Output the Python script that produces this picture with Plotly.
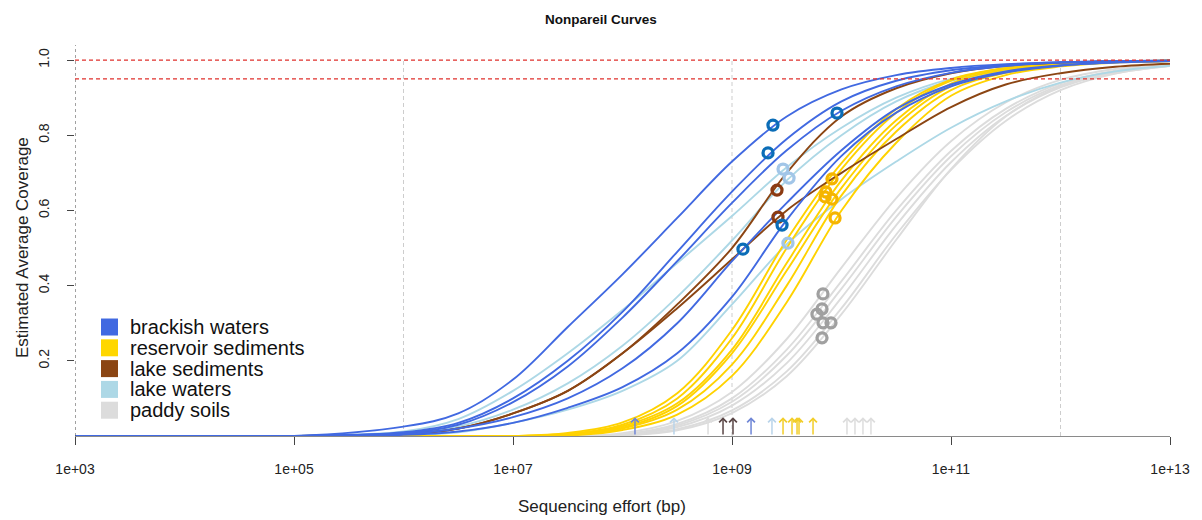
import plotly.graph_objects as go

# ---------------- data ----------------
# log10 of sequencing effort (bp) at which every curve was read
LOG_EFFORT = [3, 5, 6, 6.5, 7, 7.5, 8, 8.5, 9, 9.5, 10, 10.5, 11, 11.5, 12, 12.5, 13]

BRACKISH_CURVES = [
    [0, 0, 0.025, 0.06, 0.15, 0.29, 0.43, 0.58, 0.73, 0.85, 0.922, 0.96, 0.979, 0.989, 0.994, 0.997, 0.998],
    [0, 0, 0.01, 0.035, 0.10, 0.20, 0.33, 0.49, 0.65, 0.79, 0.89, 0.945, 0.973, 0.987, 0.994, 0.997, 0.998],
    [0, 0, 0.008, 0.03, 0.09, 0.185, 0.315, 0.465, 0.62, 0.76, 0.865, 0.93, 0.966, 0.984, 0.993, 0.996, 0.998],
    [0, 0, 0.003, 0.012, 0.035, 0.075, 0.13, 0.22, 0.37, 0.575, 0.745, 0.86, 0.93, 0.967, 0.985, 0.993, 0.997],
    [0, 0, 0.005, 0.02, 0.05, 0.10, 0.18, 0.30, 0.465, 0.62, 0.76, 0.87, 0.935, 0.97, 0.986, 0.994, 0.997],
]
LAKE_WATER_CURVES = [
    [0, 0, 0.012, 0.045, 0.12, 0.22, 0.335, 0.46, 0.585, 0.715, 0.82, 0.90, 0.95, 0.975, 0.988, 0.994, 0.997],
    [0, 0, 0.005, 0.025, 0.07, 0.14, 0.24, 0.37, 0.52, 0.68, 0.80, 0.89, 0.945, 0.973, 0.987, 0.994, 0.997],
    [0, 0, 0.002, 0.01, 0.035, 0.07, 0.12, 0.20, 0.35, 0.51, 0.63, 0.73, 0.82, 0.89, 0.94, 0.97, 0.985],
]
LAKE_SEDIMENT_CURVES = [
    [0, 0, 0.005, 0.02, 0.06, 0.12, 0.22, 0.35, 0.50, 0.70, 0.85, 0.925, 0.965, 0.985, 0.993, 0.997, 0.998],
    [0, 0, 0.005, 0.02, 0.06, 0.12, 0.22, 0.34, 0.47, 0.60, 0.70, 0.79, 0.875, 0.935, 0.965, 0.982, 0.99],
]
RESERVOIR_CURVES = [
    [0, 0, 0, 0, 0, 0.008, 0.036, 0.114, 0.282, 0.522, 0.726, 0.87, 0.948, 0.979, 0.99, 0.996, 0.998],
    [0, 0, 0, 0, 0, 0.005, 0.03, 0.10, 0.26, 0.50, 0.71, 0.86, 0.945, 0.978, 0.99, 0.996, 0.998],
    [0, 0, 0, 0, 0, 0.004, 0.026, 0.087, 0.23, 0.46, 0.68, 0.84, 0.937, 0.975, 0.988, 0.995, 0.998],
    [0, 0, 0, 0, 0, 0.003, 0.022, 0.08, 0.22, 0.44, 0.66, 0.827, 0.93, 0.97, 0.987, 0.995, 0.998],
    [0, 0, 0, 0, 0, 0.001, 0.016, 0.057, 0.16, 0.356, 0.60, 0.78, 0.905, 0.96, 0.983, 0.993, 0.997],
    [0, 0, 0, 0, 0, 0.003, 0.02, 0.07, 0.19, 0.40, 0.64, 0.81, 0.92, 0.966, 0.986, 0.994, 0.997],
]
PADDY_CURVES = [
    [0, 0, 0, 0, 0, 0, 0.0075, 0.04, 0.117, 0.258, 0.448, 0.633, 0.784, 0.887, 0.947, 0.976, 0.989],
    [0, 0, 0, 0, 0, 0, 0.0044, 0.032, 0.10, 0.23, 0.412, 0.60, 0.758, 0.87, 0.938, 0.972, 0.988],
    [0, 0, 0, 0, 0, 0, 0.003, 0.028, 0.091, 0.214, 0.392, 0.583, 0.744, 0.861, 0.933, 0.97, 0.987],
    [0, 0, 0, 0, 0, 0, 0.0034, 0.024, 0.081, 0.194, 0.368, 0.561, 0.728, 0.851, 0.927, 0.967, 0.985],
    [0, 0, 0, 0, 0, 0, 0.002, 0.018, 0.068, 0.172, 0.34, 0.536, 0.708, 0.838, 0.92, 0.964, 0.984],
    [0, 0, 0, 0, 0, 0, 0.0012, 0.015, 0.061, 0.159, 0.324, 0.522, 0.71, 0.85, 0.93, 0.965, 0.985],
]

# actual sequencing effort (log10 bp) and observed coverage of each dataset
BRACKISH_LR = [9.374, 9.329, 9.959, 9.457, 9.100]
BRACKISH_COV = [0.827, 0.753, 0.859, 0.561, 0.497]
LAKE_WATER_LR = [9.466, 9.521, 9.511]
LAKE_WATER_COV = [0.710, 0.686, 0.513]
LAKE_SEDIMENT_LR = [9.411, 9.420]
LAKE_SEDIMENT_COV = [0.654, 0.582]
RESERVOIR_LR = [9.913, 9.858, 9.913, 9.941, 9.850]
RESERVOIR_COV = [0.684, 0.649, 0.630, 0.580, 0.636]
PADDY_LR = [9.831, 9.822, 9.776, 9.831, 9.904, 9.822]
PADDY_COV = [0.378, 0.338, 0.324, 0.301, 0.301, 0.261]

# sequence diversity (log10) shown as arrows on the x axis
BRACKISH_DIV = [8.114, 9.174]
LAKE_WATER_DIV = [8.470, 9.365]
LAKE_SEDIMENT_DIV = [8.918, 9.009]
RESERVOIR_DIV = [9.466, 9.548, 9.594, 9.612, 9.740]
PADDY_DIV = [8.781, 10.050, 10.123, 10.196, 10.269]

GROUPS = ["brackish waters", "reservoir sediments", "lake sediments", "lake waters", "paddy soils"]
X_TICKS = [3, 5, 7, 9, 11, 13]
X_TICK_LABELS = ["1e+03", "1e+05", "1e+07", "1e+09", "1e+11", "1e+13"]
Y_TICKS = [0.2, 0.4, 0.6, 0.8, 1.0]
Y_TICK_LABELS = ["0.2", "0.4", "0.6", "0.8", "1.0"]
GRID_LOG = [6, 9, 12]
THRESHOLDS = [1.0, 0.95]

# ---------------- styles ----------------
FONT = "Liberation Sans, Arial, sans-serif"
LINE_COL = {
    "brackish waters": "#4169E1",
    "reservoir sediments": "#FFD200",
    "lake sediments": "#8B4513",
    "lake waters": "#ADD8E6",
    "paddy soils": "#DCDCDC",
}
LEGEND_COL = {
    "brackish waters": "#4169E1",
    "reservoir sediments": "#FFD700",
    "lake sediments": "#8B4513",
    "lake waters": "#ADD8E6",
    "paddy soils": "#DCDCDC",
}
POINT_COL = {
    "brackish waters": "#0B6DB7",
    "reservoir sediments": "#F5B400",
    "lake sediments": "#8B3A12",
    "lake waters": "#A2C6E8",
    "paddy soils": "#A0A0A0",
}
ARROW_COL = {
    "brackish waters": "#6f86d6",
    "reservoir sediments": "#F2CE2A",
    "lake sediments": "#5a4646",
    "lake waters": "#B9D4EA",
    "paddy soils": "#DDDDDD",
}

# page offset: the html body adds an 8 px margin around the figure
OFF = 8
FIG_W, FIG_H = 1202 - OFF, 520 - OFF
PLOT_L, PLOT_R, PLOT_B = 75, 1170, 436     # in screenshot pixels
Y_TOP = 1.04
PLOT_H = (PLOT_B - 60) * Y_TOP             # 1.0 sits at y = 60


def px_to_paper(px, py):
    return (px - PLOT_L) / (PLOT_R - PLOT_L), (PLOT_B - py) / PLOT_H


x_vals = [10 ** v for v in LOG_EFFORT]

fig = go.Figure()

curve_sets = [
    ("paddy soils", PADDY_CURVES),
    ("lake waters", LAKE_WATER_CURVES),
    ("reservoir sediments", RESERVOIR_CURVES),
    ("lake sediments", LAKE_SEDIMENT_CURVES),
    ("brackish waters", BRACKISH_CURVES),
]
for name, curves in curve_sets:
    for ys in curves:
        fig.add_trace(go.Scatter(
            x=x_vals, y=ys, mode="lines",
            line=dict(color=LINE_COL[name], width=1.9, shape="spline", smoothing=1.0),
            showlegend=False, hoverinfo="skip"))

point_sets = [
    ("paddy soils", PADDY_LR, PADDY_COV),
    ("lake waters", LAKE_WATER_LR, LAKE_WATER_COV),
    ("reservoir sediments", RESERVOIR_LR, RESERVOIR_COV),
    ("lake sediments", LAKE_SEDIMENT_LR, LAKE_SEDIMENT_COV),
    ("brackish waters", BRACKISH_LR, BRACKISH_COV),
]
for name, lr, cov in point_sets:
    fig.add_trace(go.Scatter(
        x=[10 ** v for v in lr], y=cov, mode="markers",
        marker=dict(symbol="circle-open", size=10, color=POINT_COL[name],
                    line=dict(width=3.3, color=POINT_COL[name])),
        showlegend=False, hoverinfo="skip"))

shapes = []
# left reference line (1e3) drawn darker
shapes.append(dict(type="line", xref="x", yref="y", x0=10 ** 3, x1=10 ** 3, y0=0, y1=Y_TOP,
                   line=dict(color="#444444", width=1, dash="3px,3px")))
for g in GRID_LOG:
    shapes.append(dict(type="line", xref="x", yref="y", x0=10 ** g, x1=10 ** g, y0=0, y1=1.0,
                       line=dict(color="#cdcdcd", width=1, dash="4px,3px"), layer="below"))
for t in THRESHOLDS:
    shapes.append(dict(type="line", xref="x", yref="y", x0=10 ** 3, x1=10 ** 13, y0=t, y1=t,
                       line=dict(color="#e0302c", width=1.2, dash="4px,3px")))

annotations = []
div_sets = [
    ("brackish waters", BRACKISH_DIV),
    ("lake waters", LAKE_WATER_DIV),
    ("lake sediments", LAKE_SEDIMENT_DIV),
    ("reservoir sediments", RESERVOIR_DIV),
    ("paddy soils", PADDY_DIV),
]
for name, divs in div_sets:
    for d in divs:
        annotations.append(dict(
            x=d, y=0.05, xref="x", yref="y", ax=d, ay=0.0, axref="x", ayref="y",
            text="", showarrow=True, arrowhead=4, arrowsize=1.0, arrowwidth=1.5,
            arrowcolor=ARROW_COL[name], standoff=0))

# manual legend (tight rows as in the reference)
LEG_SQ_X0, LEG_SQ_X1 = 101, 118
LEG_TEXT_X = 128
LEG_ROW0, LEG_ROW_STEP = 327, 20.8
for i, name in enumerate(GROUPS):
    cy = LEG_ROW0 + i * LEG_ROW_STEP
    x0, y0 = px_to_paper(LEG_SQ_X0, cy + 8.5)
    x1, y1 = px_to_paper(LEG_SQ_X1, cy - 8.5)
    shapes.append(dict(type="rect", xref="paper", yref="paper", x0=x0, x1=x1, y0=y0, y1=y1,
                       fillcolor=LEGEND_COL[name], line=dict(width=0)))
    tx, ty = px_to_paper(LEG_TEXT_X, cy)
    annotations.append(dict(text=name, xref="paper", yref="paper", x=tx, y=ty,
                            xanchor="left", yanchor="middle", showarrow=False,
                            font=dict(family=FONT, size=20, color="#111")))

ax_x, ax_y = px_to_paper(602, 507)
annotations.append(dict(text="Sequencing effort (bp)", xref="paper", yref="paper",
                        x=ax_x, y=ax_y, showarrow=False,
                        xanchor="center", yanchor="middle",
                        font=dict(family=FONT, size=17, color="#222")))
ay_x, ay_y = px_to_paper(22, 248)
annotations.append(dict(text="Estimated Average Coverage", xref="paper", yref="paper",
                        x=ay_x, y=ay_y, showarrow=False,
                        textangle=-90, xanchor="center", yanchor="middle",
                        font=dict(family=FONT, size=17, color="#222")))

fig.update_layout(
    width=FIG_W, height=FIG_H,
    margin=dict(l=PLOT_L - OFF, r=FIG_W - (PLOT_R - OFF),
                t=round(PLOT_B - PLOT_H) - OFF, b=FIG_H - (PLOT_B - OFF)),
    paper_bgcolor="white", plot_bgcolor="white",
    font=dict(family=FONT, size=14, color="#222"),
    showlegend=False,
    title=dict(text="<b>Nonpareil Curves</b>", x=(601 - OFF) / FIG_W, xanchor="center",
               y=1 - (19 - OFF) / FIG_H, yanchor="middle",
               font=dict(family=FONT, size=13.5, color="#111")),
    xaxis=dict(type="log", range=[3, 13], tickvals=[10 ** v for v in X_TICKS],
               ticktext=X_TICK_LABELS, showgrid=False, zeroline=False,
               showline=True, linecolor="#8a8a8a", linewidth=1.2,
               ticks="outside", ticklen=8, tickcolor="#444", tickwidth=1,
               ticklabelstandoff=12, tickfont=dict(family=FONT, size=14, color="#222")),
    yaxis=dict(range=[0, Y_TOP], tickvals=Y_TICKS, ticktext=Y_TICK_LABELS,
               tickangle=-90, showgrid=False, zeroline=False, showline=False,
               ticks="outside", ticklen=7, tickcolor="#444",
               ticklabelstandoff=12, tickfont=dict(family=FONT, size=14, color="#222")),
    shapes=shapes,
    annotations=annotations,
)

fig.write_html("out.html")
